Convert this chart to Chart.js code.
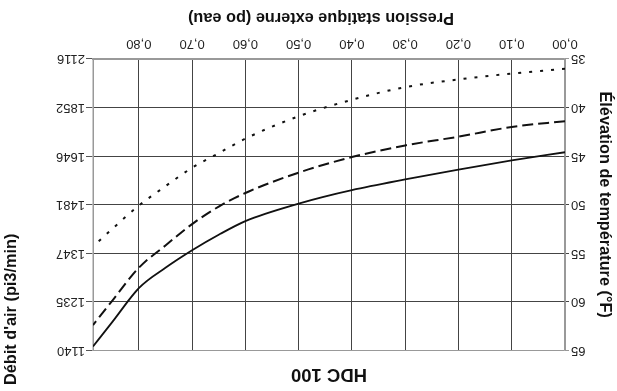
<!DOCTYPE html>
<html><head><meta charset="utf-8">
<script src="https://cdn.jsdelivr.net/npm/chart.js@4.4.0/dist/chart.umd.min.js"></script>
<style>
html,body{margin:0;padding:0;background:#fff;}
#wrap{width:617px;height:391px;position:relative;overflow:hidden;background:#fff;}
#c{transform:rotate(180deg);display:block;}
</style></head><body>
<div id="wrap"><canvas id="c" width="617" height="391"></canvas></div>
<script>
const chartTitle = 'HDC 100';
const xTitle = 'Pression statique externe (po eau)';
const tempTitle = 'Élévation de température (°F)';
const flowTitle = "Débit d'air (pi3/min)";

const pressure = [0, 0.10, 0.20, 0.30, 0.40, 0.50, 0.60, 0.65, 0.70, 0.75, 0.80, 0.85, 0.886];
const pressureTicks = [0, 0.1, 0.2, 0.3, 0.4, 0.5, 0.6, 0.7, 0.8];
const tempTicks = [35, 40, 45, 50, 55, 60, 65];
const flowTicks = ['2116', '1852', '1646', '1481', '1347', '1235', '1140'];

const seriesSolid  = [44.6, 45.45, 46.4, 47.4, 48.5, 49.9, 51.7, 53.1, 54.7, 56.5, 58.6, 62.1, 64.6];
const seriesDashed = [41.4, 42.0, 43.0, 43.9, 45.1, 46.7, 48.8, 50.2, 52.0, 54.2, 56.5, 59.9, 62.4];
const seriesDotted = [36.0, 36.5, 37.1, 37.9, 39.2, 40.9, 43.2, 44.7, 46.2, 48.1, 50.1, 52.5, 54.3];

const FONT = "'Liberation Sans', Arial, sans-serif";
Chart.defaults.font.family = FONT;
Chart.defaults.color = '#222';

const toPts = arr => pressure.map((p, i) => ({x: p, y: arr[i]}));
const lineDs = (arr, dash, w) => ({
  data: toPts(arr), borderColor: '#111', borderWidth: w, borderDash: dash,
  pointRadius: 0, fill: false, cubicInterpolationMode: 'monotone', yAxisID: 'y'
});

const extraTitlesPlugin = {
  id: 'extraTitles',
  afterDraw(chart) {
    const ctx = chart.ctx;
    ctx.save();
    ctx.font = "bold 16.3px " + FONT;
    ctx.fillStyle = '#111';
    ctx.textBaseline = 'middle';
    // x axis title
    ctx.textAlign = 'center';
    ctx.fillText(xTitle, 296, 374);
    // flow axis title
    ctx.translate(605, 6);
    ctx.rotate(Math.PI / 2);
    ctx.textAlign = 'left';
    ctx.fillText(flowTitle, 0, 0);
    ctx.restore();
  }
};

const gridColor = ctx => (ctx.index === 0 || ctx.index === ctx.chart.scales[ctx.scale.id].ticks.length - 1) ? '#999' : '#444';

new Chart(document.getElementById('c'), {
  type: 'line',
  data: { datasets: [
    lineDs(seriesSolid, [], 1.8),
    lineDs(seriesDashed, [11, 5], 2),
    lineDs(seriesDotted, [3, 8], 2)
  ]},
  options: {
    responsive: false, animation: false,
    layout: { padding: { left: 0, right: 41, top: 0, bottom: 0 } },
    plugins: {
      legend: { display: false },
      tooltip: { enabled: false },
      title: { display: true, text: chartTitle, color: '#111',
        font: { size: 18.5, weight: 'bold' }, padding: { top: 6, bottom: 12.5 } }
    },
    scales: {
      x: {
        type: 'linear', position: 'bottom', min: 0, max: 0.886,
        afterBuildTicks: s => { s.ticks = pressureTicks.map(v => ({value: v})); },
        afterFit: s => { s.height = 59; },
        ticks: { autoSkip: false, maxRotation: 0, padding: 8, font: { size: 13 },
          callback: v => v.toFixed(2).replace('.', ',') },
        grid: { drawTicks: false, color: ctx => ctx.index === 0 ? '#999' : '#444', lineWidth: 1 },
        border: { display: true, color: '#999', width: 1.5 },
        title: { display: false }
      },
      y: {
        type: 'linear', position: 'left', min: 35, max: 65,
        afterBuildTicks: s => { s.ticks = tempTicks.map(v => ({value: v})); },
        afterFit: s => { s.width = 52; },
        ticks: { padding: 2, font: { size: 13 } },
        grid: { drawTicks: true, tickLength: 4, color: gridColor, lineWidth: 1 },
        border: { display: true, color: '#999', width: 1.5 },
        title: { display: true, text: tempTitle, color: '#111', font: { size: 16.3, weight: 'bold' },
          padding: { top: 2.5, bottom: 0 } }
      },
      y2: {
        type: 'linear', position: 'right', min: 35, max: 65,
        afterBuildTicks: s => { s.ticks = tempTicks.map(v => ({value: v})); },
        afterFit: s => { s.width = 52; },
        ticks: { padding: 1, font: { size: 13 }, callback: (v, i) => flowTicks[i] },
        grid: { drawOnChartArea: false, drawTicks: true, tickLength: 7, color: '#555' },
        border: { display: true, color: '#999', width: 1.5 }
      }
    }
  },
  plugins: [extraTitlesPlugin]
});
</script>
</body></html>
